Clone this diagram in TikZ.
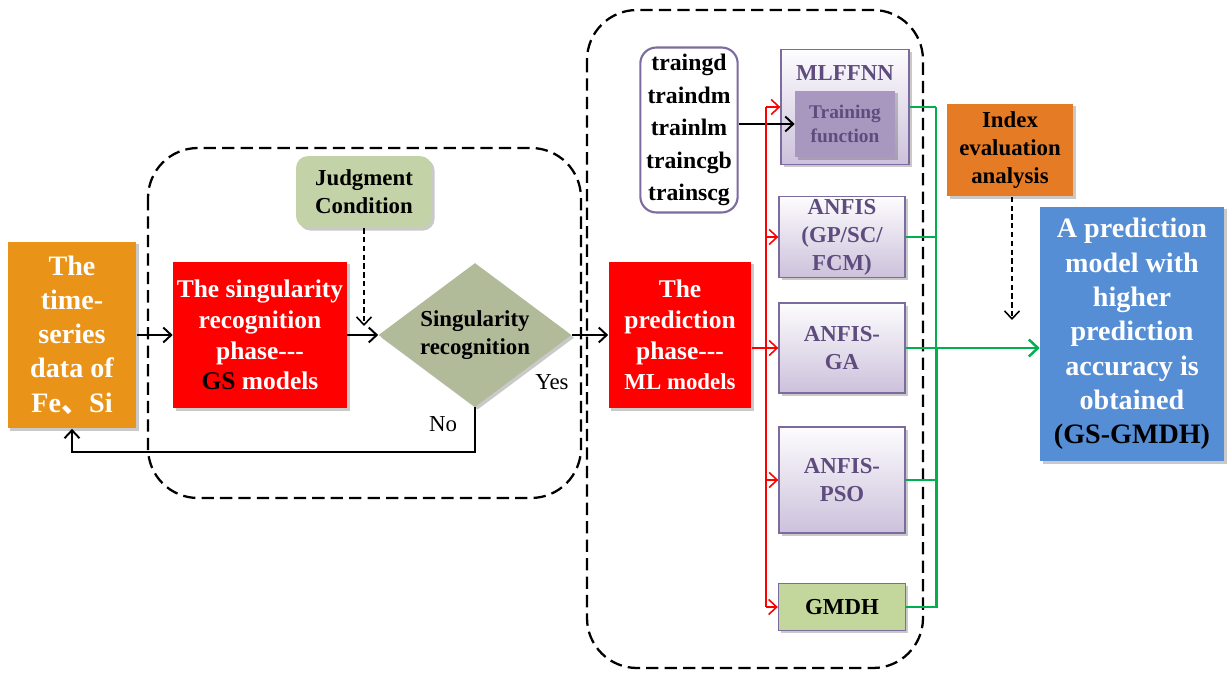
\documentclass[tikz,border=0pt]{standalone}
\usepackage{fontspec}
\setmainfont{Liberation Serif}
\newfontfamily\cjkfont{Noto Sans CJK SC}
\usepackage{xcolor}
\usetikzlibrary{shapes.geometric, arrows.meta, positioning, shadows}
\definecolor{gsorange}{HTML}{E99318}
\definecolor{gsred}{HTML}{FF0000}
\definecolor{gsjudge}{HTML}{C4D3A7}
\definecolor{gsdiam}{HTML}{B1BA99}
\definecolor{mlborder}{HTML}{7C6B9E}
\definecolor{mltext}{HTML}{5E4C7E}
\definecolor{mltop}{HTML}{FDFCFE}
\definecolor{mlbot}{HTML}{CCC1DB}
\definecolor{mlinner}{HTML}{A898BF}
\definecolor{gmdhgreen}{HTML}{C3D69B}
\definecolor{idxorange}{HTML}{E67B25}
\definecolor{resblue}{HTML}{558ED5}
\definecolor{lnkgreen}{HTML}{00B050}

\begin{document}
\begin{tikzpicture}[x=0.02cm, y=-0.02cm, font=\bfseries,
        box/.style={align=center, inner sep=1pt,
          drop shadow={shadow xshift=1.5pt, shadow yshift=-1.5pt, opacity=0.3, fill=black!70}},
        bigbox/.style={box, text=white, font=\bfseries\fontsize{16}{19.5}\selectfont},
        phase/.style={box, fill=gsred, text=white, font=\bfseries\fontsize{14.5}{17.5}\selectfont},
        model/.style={box, draw=mlborder, line width=0.8pt, top color=mltop, bottom color=mlbot,
          text=mltext, font=\bfseries\fontsize{13}{16}\selectfont, minimum width=2.52cm},
        frame/.style={draw, line width=1.3pt, dash pattern=on 7pt off 3.5pt, rounded corners=1cm},
        arr/.style={-{Straight Barb[length=1.6mm,width=3mm]}, line width=1.1pt},
        dasharr/.style={arr, line width=0.9pt, dash pattern=on 3pt off 2pt},
        redarr/.style={-{Straight Barb[length=1.6mm,width=3mm]}, draw=gsred, line width=0.9pt},
        greenline/.style={draw=lnkgreen, line width=0.8pt},
        lbl/.style={font=\fontsize{13}{15}\selectfont}]
  \useasboundingbox (0,0) rectangle (1230,675);

  % dashed phase frames
  \draw[frame] (148,148) rectangle (581,498);
  \draw[frame] (587,10) rectangle (923,668);

  % singularity recognition phase
  \node[bigbox, fill=gsorange, minimum width=2.58cm, minimum height=3.74cm] (data) at (72,335)
    {The\\time-\\series\\data of\\Fe{\cjkfont 、}Si};
  \node[phase, minimum width=3.48cm, minimum height=2.94cm] (srp) at (260,335)
    {The singularity\\recognition\\phase-{}-{}-\\{\color{black}GS} models};
  \node[box, fill=gsjudge, rounded corners=0.24cm, minimum width=2.72cm, minimum height=1.44cm,
    font=\bfseries\fontsize{13}{16}\selectfont] (judge) at (364,192) {Judgment\\Condition};
  \node[box, diamond, fill=gsdiam, inner sep=0pt, aspect=1.34, minimum width=3.86cm, minimum height=2.88cm,
    font=\bfseries\fontsize{13}{15.5}\selectfont] (diam) at (475,335) {Singularity\\recognition};
  \coordinate (jtip) at (364,326);
  \coordinate (back) at (475,452);
  \node[lbl] (no) at (443,424) {No};
  \node[lbl] (yes) at (552,382) {Yes};

  \draw[arr] (data) -- (srp);
  \draw[arr] (srp) -- (diam);
  \draw[dasharr] (judge) -- (jtip);
  \draw[arr] (diam.south) -- (back) -| (data.south);

  % prediction phase
  \node[phase, minimum width=2.86cm, minimum height=2.94cm] (pred) at (680,335)
    {The\\prediction\\phase-{}-{}-\\{\fontsize{13}{16}\selectfont ML models}};
  \draw[arr] (diam) -- (pred);

  \node[draw=mlborder, line width=1.2pt, rounded corners=0.32cm, fill=white, align=center,
    minimum width=1.92cm, minimum height=3.3cm, font=\bfseries\fontsize{13.5}{18.5}\selectfont] (list) at (689,130)
    {traingd\\traindm\\trainlm\\traincgb\\trainscg};
  \node[model, minimum width=2.56cm, minimum height=2.3cm] (mlp) at (845,107) {};
  \node[font=\bfseries\fontsize{13}{16}\selectfont, text=mltext] (mlpname) at (845,73) {MLFFNN};
  \node[box, fill=mlinner, text=mltext, minimum width=2cm, minimum height=1.34cm,
    font=\bfseries\fontsize{11}{14}\selectfont] (tf) at (845,124) {Training\\function};
  \node[model, minimum height=1.62cm] (anfis) at (842,237) {ANFIS\\(GP/SC/\\FCM)};
  \node[model, minimum height=1.8cm] (ga) at (842,348) {ANFIS-\\GA};
  \node[model, minimum height=2.12cm] (pso) at (842,480) {ANFIS-\\PSO};
  \node[model, fill=gmdhgreen, top color=gmdhgreen, bottom color=gmdhgreen, text=black,
    minimum width=2.54cm, minimum height=0.94cm] (gmdh) at (842,607) {GMDH};

  \draw[arr] (list.east |- tf.west) -- (tf.west);

  % red distribution
  \coordinate (rt) at (766,0);
  \draw[draw=gsred, line width=0.9pt] (rt |- mlp.west) -- (rt |- gmdh.west);
  \draw[draw=gsred, line width=0.9pt] (pred.east |- ga.west) -- (rt |- ga.west);
  \foreach \m in {mlp, anfis, ga, pso, gmdh}
    \draw[redarr] (rt |- \m.west) -- (\m.west);

  % result side
  \node[box, fill=idxorange, minimum width=2.52cm, minimum height=1.86cm,
    font=\bfseries\fontsize{13}{16}\selectfont] (idx) at (1010,150) {Index\\evaluation\\analysis};
  \node[bigbox, fill=resblue, minimum width=3.68cm, minimum height=5.1cm] (res) at (1132,334)
    {A prediction\\model with\\higher\\prediction\\accuracy is\\obtained\\{\color{black}(GS-GMDH)}};
  \coordinate (itip) at (1012,320);
  \draw[dasharr] (idx.south -| itip) -- (itip);

  % green collection
  \coordinate (gt) at (936,0);
  \foreach \m in {mlp, anfis, ga, pso}
    \draw[greenline] (\m.east) -- (gt |- \m.east);
  \draw[greenline] (gt |- mlp.east) -- (gt |- ga.east);
  \draw[draw=lnkgreen, line width=1.7pt] (gmdh.east) -| (gt |- ga.east);
  \draw[-{Straight Barb[length=1.8mm,width=3.4mm]}, draw=lnkgreen, line width=1.4pt] (ga.east) -- (ga.east -| res.west);
\end{tikzpicture}
\end{document}
